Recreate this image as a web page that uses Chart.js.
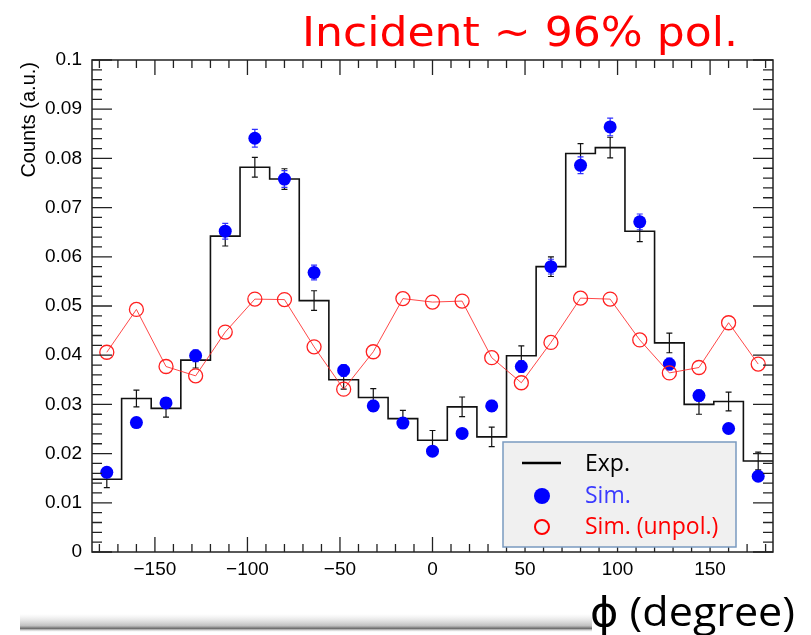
<!DOCTYPE html>
<html>
<head>
<meta charset="utf-8">
<script src="https://cdn.jsdelivr.net/npm/chart.js@4.4.1/dist/chart.umd.min.js"></script>
<style>
  html, body { margin: 0; padding: 0; background: #fff; }
  canvas { display: block; }
</style>
</head>
<body>
<canvas id="myChart" width="811" height="635"></canvas>
<script>
  // bin centres (degree), 16 degree bins from -184 to 184
  var phi = [-176, -160, -144, -128, -112, -96, -80, -64, -48, -32, -16, 0, 16, 32, 48, 64, 80, 96, 112, 128, 144, 160, 176];
  var binWidth = 16;

  var expCounts = [0.0148, 0.0312, 0.0292, 0.0390, 0.0642, 0.0782, 0.0758, 0.0511, 0.0350, 0.0314, 0.0271, 0.0227,
                   0.0295, 0.0234, 0.0399, 0.0580, 0.0810, 0.0822, 0.0652, 0.0425, 0.0300, 0.0306, 0.0185];
  var expErr = [0.0017, 0.0017, 0.0018, 0.0016, 0.0020, 0.0020, 0.0021, 0.0020, 0.0019, 0.0018, 0.0017, 0.0020,
                0.0020, 0.0020, 0.0020, 0.0020, 0.0020, 0.0021, 0.0021, 0.0020, 0.0020, 0.0019, 0.0018];

  var simPol = [0.0162, 0.0263, 0.0303, 0.0399, 0.0652, 0.0841, 0.0758, 0.0568, 0.0369, 0.0297, 0.0262, 0.0205,
                0.0241, 0.0297, 0.0377, 0.0580, 0.0786, 0.0864, 0.0671, 0.0382, 0.0318, 0.0251, 0.0154];
  var simErr = [0.0008, 0.0010, 0.0011, 0.0012, 0.0016, 0.0018, 0.0017, 0.0015, 0.0012, 0.0011, 0.0010, 0.0009,
                0.0010, 0.0011, 0.0012, 0.0015, 0.0017, 0.0018, 0.0016, 0.0012, 0.0011, 0.0010, 0.0008];

  var simUnpol = [0.0406, 0.0493, 0.0377, 0.0358, 0.0447, 0.0514, 0.0513, 0.0417, 0.0331, 0.0407, 0.0515, 0.0508,
                  0.0510, 0.0395, 0.0344, 0.0426, 0.0516, 0.0514, 0.0431, 0.0364, 0.0375, 0.0466, 0.0382];

  var xTicks = [-150, -100, -50, 0, 50, 100, 150];
  var yTicks = [0, 0.01, 0.02, 0.03, 0.04, 0.05, 0.06, 0.07, 0.08, 0.09, 0.1];

  var legendLabels = ["Exp.", "Sim.", "Sim. (unpol.)"];
  var titleText = "Incident ~ 96% pol.";
  var xTitle = "\u03D5 (degree)";
  var yTitle = "Counts (a.u.)";

  // histogram outline: left edge of each bin, plus closing right edge
  var expStep = phi.map(function (c, i) { return { x: c - binWidth / 2, y: expCounts[i] }; });
  expStep.push({ x: phi[phi.length - 1] + binWidth / 2, y: expCounts[expCounts.length - 1] });

  var rootStyle = {
    id: 'rootStyle',
    beforeDraw: function (chart) {
      var ctx = chart.ctx;
      ctx.save();
      ctx.fillStyle = '#fff';
      ctx.fillRect(0, 0, chart.width, chart.height);
      ctx.restore();
    },
    beforeDatasetsDraw: function (chart) {
      var ctx = chart.ctx, xs = chart.scales.x, ys = chart.scales.y;
      ctx.save();
      // exp error bars
      ctx.strokeStyle = '#111';
      ctx.lineWidth = 1.2;
      phi.forEach(function (c, i) {
        var px = xs.getPixelForValue(c);
        var y1 = ys.getPixelForValue(expCounts[i] - expErr[i]);
        var y2 = ys.getPixelForValue(expCounts[i] + expErr[i]);
        ctx.beginPath();
        ctx.moveTo(px, y1); ctx.lineTo(px, y2);
        ctx.moveTo(px - 3, y1); ctx.lineTo(px + 3, y1);
        ctx.moveTo(px - 3, y2); ctx.lineTo(px + 3, y2);
        ctx.stroke();
      });
      // sim error bars
      ctx.strokeStyle = '#3030ff';
      phi.forEach(function (c, i) {
        var px = xs.getPixelForValue(c);
        var y1 = ys.getPixelForValue(simPol[i] - simErr[i]);
        var y2 = ys.getPixelForValue(simPol[i] + simErr[i]);
        ctx.beginPath();
        ctx.moveTo(px, y1); ctx.lineTo(px, y2);
        ctx.moveTo(px - 3, y1); ctx.lineTo(px + 3, y1);
        ctx.moveTo(px - 3, y2); ctx.lineTo(px + 3, y2);
        ctx.stroke();
      });
      ctx.restore();
    },
    afterDraw: function (chart) {
      var ctx = chart.ctx, a = chart.chartArea, xs = chart.scales.x, ys = chart.scales.y;
      ctx.save();

      // frame
      ctx.strokeStyle = '#222';
      ctx.lineWidth = 1.5;
      ctx.strokeRect(a.left, a.top, a.right - a.left, a.bottom - a.top);

      // ticks pointing inward on all four sides
      ctx.lineWidth = 1.3;
      ctx.beginPath();
      for (var k = 0; k <= 50; k++) {
        var py = ys.getPixelForValue(k * 0.002);
        var len = (k % 5 === 0) ? 20 : 10;
        ctx.moveTo(a.left, py); ctx.lineTo(a.left + len, py);
        ctx.moveTo(a.right, py); ctx.lineTo(a.right - len, py);
      }
      for (var v = -180; v <= 180; v += 10) {
        var px = xs.getPixelForValue(v);
        var l2 = (v % 50 === 0) ? 15 : 8;
        ctx.moveTo(px, a.bottom); ctx.lineTo(px, a.bottom - l2);
        ctx.moveTo(px, a.top); ctx.lineTo(px, a.top + l2);
      }
      ctx.stroke();

      // y axis title
      ctx.fillStyle = '#000';
      ctx.font = '20px "Liberation Sans", Arial, sans-serif';
      ctx.translate(29, 62);
      ctx.rotate(-Math.PI / 2);
      ctx.textAlign = 'right';
      ctx.textBaseline = 'middle';
      ctx.fillText(yTitle, 0, 0);
      ctx.setTransform(1, 0, 0, 1, 0, 0);

      // legend box
      ctx.fillStyle = '#f0f0f0';
      ctx.fillRect(503, 442, 233, 105);
      ctx.strokeStyle = '#7a9ac0';
      ctx.lineWidth = 1.5;
      ctx.strokeRect(503, 442, 233, 105);

      ctx.strokeStyle = '#000';
      ctx.lineWidth = 2.5;
      ctx.beginPath();
      ctx.moveTo(522, 463); ctx.lineTo(561, 463);
      ctx.stroke();

      ctx.fillStyle = '#0000ff';
      ctx.beginPath();
      ctx.arc(542, 496, 8, 0, Math.PI * 2);
      ctx.fill();

      ctx.strokeStyle = '#ff0000';
      ctx.lineWidth = 2;
      ctx.beginPath();
      ctx.arc(542, 527, 7, 0, Math.PI * 2);
      ctx.stroke();

      ctx.font = '23px "Open Sans", "Noto Sans", sans-serif';
      ctx.textAlign = 'left';
      ctx.textBaseline = 'middle';
      ctx.fillStyle = '#000';
      ctx.fillText(legendLabels[0], 585, 464);
      ctx.fillStyle = '#3a3aff';
      ctx.fillText(legendLabels[1], 585, 496);
      ctx.fillStyle = '#ff0000';
      ctx.fillText(legendLabels[2], 585, 527);

      // title
      ctx.fillStyle = '#ff0000';
      ctx.font = '40px "DejaVu Sans", sans-serif';
      ctx.textBaseline = 'alphabetic';
      var w = ctx.measureText(titleText).width;
      ctx.save();
      ctx.translate(302, 46);
      ctx.scale(436 / w, 1);
      ctx.fillText(titleText, 0, 0);
      ctx.restore();

      // slide decoration line at the bottom
      var g = ctx.createLinearGradient(0, 614, 0, 632);
      g.addColorStop(0, 'rgba(200,200,200,0)');
      g.addColorStop(0.65, 'rgba(150,150,150,0.6)');
      g.addColorStop(0.8, 'rgba(90,90,90,0.9)');
      g.addColorStop(1, 'rgba(220,220,220,0)');
      ctx.fillStyle = g;
      ctx.fillRect(20, 614, 572, 18);

      // x axis title
      ctx.fillStyle = '#000';
      ctx.font = '40px "Open Sans", "DejaVu Sans", sans-serif';
      var w2 = ctx.measureText(xTitle).width;
      ctx.save();
      ctx.translate(590, 626);
      ctx.scale(205 / w2, 1);
      ctx.fillText(xTitle, 0, 0);
      ctx.restore();

      ctx.restore();
    }
  };

  var ctx = document.getElementById('myChart').getContext('2d');
  var chart = new Chart(ctx, {
    type: 'line',
    data: {
      datasets: [{
        label: legendLabels[2],
        data: phi.map(function (x, i) { return { x: x, y: simUnpol[i] }; }),
        borderColor: 'rgba(255,40,40,0.85)',
        borderWidth: 1,
        pointStyle: 'circle',
        pointRadius: 7,
        pointBorderWidth: 1.3,
        pointBorderColor: '#ff2020',
        pointBackgroundColor: 'rgba(255,255,255,0)',
        fill: false,
        order: 1
      }, {
        label: legendLabels[1],
        type: 'scatter',
        data: phi.map(function (x, i) { return { x: x, y: simPol[i] }; }),
        pointRadius: 6.5,
        pointBackgroundColor: '#0000ff',
        pointBorderColor: '#0000ff',
        pointBorderWidth: 0,
        showLine: false,
        order: 2
      }, {
        label: legendLabels[0],
        data: expStep,
        stepped: true,
        borderColor: '#111',
        borderWidth: 1.6,
        pointRadius: 0,
        fill: false,
        order: 3
      }]
    },
    options: {
      responsive: false,
      animation: false,
      devicePixelRatio: 1,
      layout: { padding: { left: 0, top: 60, right: 38, bottom: 0 } },
      plugins: {
        legend: { display: false },
        tooltip: { enabled: false }
      },
      scales: {
        x: {
          type: 'linear',
          min: -184,
          max: 184,
          afterBuildTicks: function (s) { s.ticks = xTicks.map(function (v) { return { value: v }; }); },
          afterFit: function (s) { s.height = 83; },
          grid: { display: false, drawTicks: false },
          border: { display: false },
          ticks: {
            padding: 6,
            color: '#000',
            font: { family: 'Liberation Sans', size: 19 },
            maxRotation: 0,
            callback: function (v) { return v < 0 ? '\u2212' + (-v) : String(v); }
          }
        },
        y: {
          type: 'linear',
          min: 0,
          max: 0.1,
          afterBuildTicks: function (s) { s.ticks = yTicks.map(function (v) { return { value: v }; }); },
          afterFit: function (s) { s.width = 92; },
          grid: { display: false, drawTicks: false },
          border: { display: false },
          ticks: {
            padding: 10,
            color: '#000',
            font: { family: 'Liberation Sans', size: 19 },
            callback: function (v) { return String(v); }
          }
        }
      }
    },
    plugins: [rootStyle]
  });
</script>
</body>
</html>
